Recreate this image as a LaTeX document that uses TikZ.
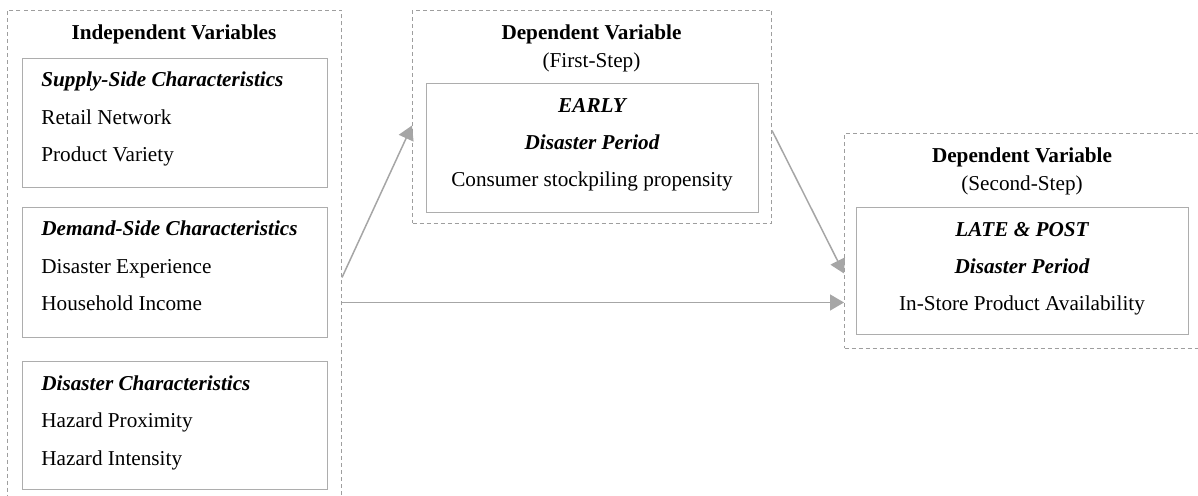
\documentclass[tikz,border=0pt]{standalone}
\usepackage{fontspec}
\setmainfont{Liberation Serif}
\usetikzlibrary{arrows.meta}
\begin{document}
\begin{tikzpicture}[x=0.5pt, y=-0.5pt,
        font=\fontsize{10.6}{12}\selectfont,
        outer/.style={draw=black!38, line width=0.5pt, dash pattern=on 2pt off 1.5pt, inner sep=0pt, anchor=north west},
        inner/.style={draw=black!32, line width=0.65pt, inner sep=0pt, anchor=north west},
        item/.style={anchor=base west, inner sep=0pt},
        centred/.style={anchor=base, inner sep=0pt},
        link/.style={draw=black!35, line width=0.75pt, -{Triangle[length=7pt, width=8pt]}}]
        \useasboundingbox (0,0) rectangle (1198,496);
        % independent variables
        \node[outer, minimum width=167pt, minimum height=250pt] (indep) at (7,10) {};
        \node[centred] (indeptitle) at (174,40) {\bfseries Independent Variables};
        \node[inner, minimum width=152.5pt, minimum height=64.5pt] (supply) at (22,58) {};
        \node[item] (supplyhead) at (41,87) {\bfseries\itshape Supply-Side Characteristics};
        \node[item] (retail) at (41,124.5) {Retail Network};
        \node[item] (variety) at (41,162) {Product Variety};
        \node[inner, minimum width=152.5pt, minimum height=65pt] (demand) at (22,207) {};
        \node[item] (demandhead) at (41,236) {\bfseries\itshape Demand-Side Characteristics};
        \node[item] (experience) at (41,273.5) {Disaster Experience};
        \node[item] (income) at (41,311) {Household Income};
        \node[inner, minimum width=152.5pt, minimum height=64pt] (disaster) at (22,361) {};
        \node[item] (disasterhead) at (41,390) {\bfseries\itshape Disaster Characteristics};
        \node[item] (proximity) at (41,427.5) {Hazard Proximity};
        \node[item] (intensity) at (41,465) {Hazard Intensity};
        % first step
        \node[outer, minimum width=179.5pt, minimum height=106.5pt] (first) at (412,10) {};
        \node[centred] (firsttitle) at (591.5,40) {\bfseries Dependent Variable};
        \node[centred] (firststep) at (591.5,68) {(First-Step)};
        \node[inner, minimum width=166pt, minimum height=64.5pt] (early) at (426,83) {};
        \node[centred] (earlyhead) at (592,113) {\bfseries\itshape EARLY};
        \node[centred] (earlyperiod) at (592,150) {\bfseries\itshape Disaster Period};
        \node[centred] (stockpiling) at (592,187) {Consumer stockpiling propensity};
        % second step
        \node[outer, minimum width=178.5pt, minimum height=107.5pt] (second) at (844,133) {};
        \node[centred] (secondtitle) at (1022,163) {\bfseries Dependent Variable};
        \node[centred] (secondstep) at (1022,191) {(Second-Step)};
        \node[inner, minimum width=165.75pt, minimum height=63.5pt] (late) at (856,207) {};
        \node[centred] (latehead) at (1022,237) {\bfseries\itshape LATE \& POST};
        \node[centred] (lateperiod) at (1022,274) {\bfseries\itshape Disaster Period};
        \node[centred] (availability) at (1022,311) {In-Store Product Availability};
        % paths
        \draw[link] ([yshift=-8.5pt]indep.east) -- ([yshift=-4.25pt]first.west);
        \draw[link] ([yshift=-21pt]indep.east) -- ([yshift=-30.75pt]second.west);
        \draw[link] ([yshift=-6.75pt]first.east) -- ([yshift=-16.25pt]second.west);
\end{tikzpicture}
\end{document}
